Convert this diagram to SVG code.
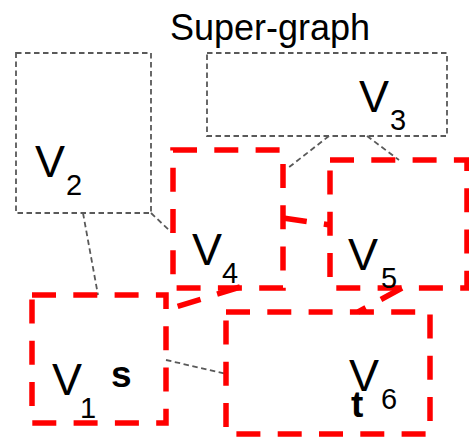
<svg xmlns="http://www.w3.org/2000/svg" width="469" height="439" viewBox="0 0 469 439">
<style>
.lbl{font-family:"Liberation Sans",Arial,sans-serif;fill:#000}
.v{font-size:45px}
.sub{font-size:29px}
.b{font-size:37px;font-weight:bold}
.gbox{fill:none;stroke:#595959;stroke-width:1.8;stroke-dasharray:5.5 3.5}
.rbox{fill:none;stroke:#ff0000;stroke-width:5.5;stroke-dasharray:24 17.3}
.gline{fill:none;stroke:#595959;stroke-width:1.8;stroke-dasharray:5.5 3.5}
.rline{fill:none;stroke:#ff0000;stroke-width:5.5;stroke-dasharray:24 17.3}
</style>
<rect width="469" height="439" fill="#fff"/>
<text class="lbl" x="170" y="40" font-size="36">Super-graph</text>
<g id="connectors">
<line class="gline" x1="83" y1="213" x2="98" y2="295"/>
<line class="gline" x1="151" y1="213" x2="171" y2="232"/>
<line class="gline" x1="329" y1="136" x2="288" y2="168"/>
<line class="gline" x1="367" y1="136" x2="399" y2="160"/>
<line class="gline" x1="166" y1="360" x2="227" y2="374"/>
<line class="rline" x1="240" y1="287" x2="166" y2="310"/>
<line class="rline" x1="283" y1="218" x2="330" y2="225"/>
<line class="rline" x1="402" y1="288" x2="358" y2="312"/>
</g>
<g id="V2">
<rect class="gbox" x="16" y="53" width="135" height="160"/>
<text class="lbl v" x="35" y="177">V</text>
<text class="lbl sub" x="66" y="195">2</text>
</g>
<g id="V3">
<rect class="gbox" x="207" y="53" width="240" height="83"/>
<text class="lbl v" x="359" y="112">V</text>
<text class="lbl sub" x="390" y="130">3</text>
</g>
<g id="V4">
<rect class="rbox" x="173" y="150" width="110" height="138"/>
<text class="lbl v" x="192" y="265">V</text>
<text class="lbl sub" x="222" y="283">4</text>
</g>
<g id="V5">
<rect class="rbox" x="330" y="160" width="137" height="128"/>
<text class="lbl v" x="348" y="270">V</text>
<text class="lbl sub" x="381" y="288">5</text>
</g>
<g id="V1">
<rect class="rbox" x="32" y="295" width="134" height="128"/>
<text class="lbl v" x="52" y="395">V</text>
<text class="lbl sub" x="80" y="418">1</text>
<text class="lbl b" x="111" y="387">s</text>
</g>
<g id="V6">
<rect class="rbox" x="226" y="312" width="204" height="122"/>
<text class="lbl v" x="349" y="391">V</text>
<text class="lbl sub" x="381" y="409">6</text>
<text class="lbl b" x="351" y="417">t</text>
</g>
</svg>
